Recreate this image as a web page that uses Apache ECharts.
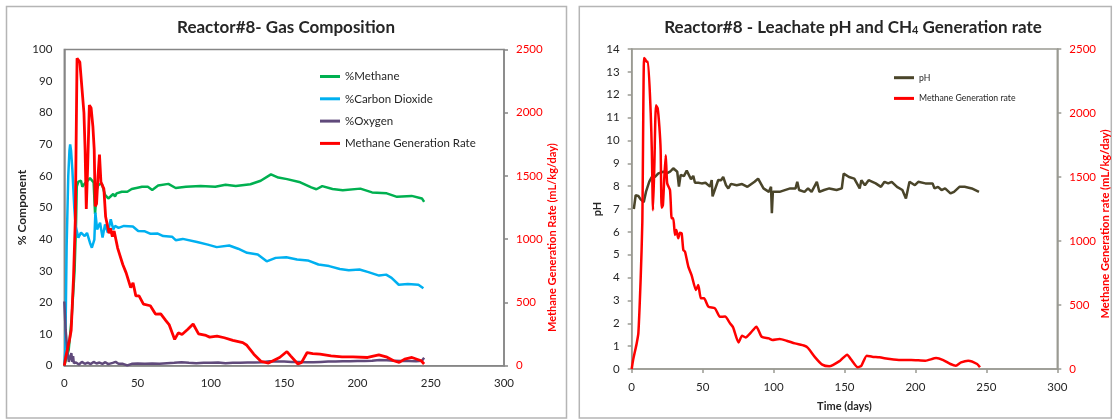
<!DOCTYPE html>
<html><head><meta charset="utf-8">
<script src="https://cdn.jsdelivr.net/npm/echarts@6/dist/echarts.min.js"></script>
<style>html,body{margin:0;padding:0;background:#fff}#c{width:1116px;height:420px}</style>
</head><body><div id="c"></div>
<script>
// ---- data (days / values) ----
const methaneDays = [0,3,5,7,8,8.5,9.6,11.4,12.3,13.7,15.3,17.5,18.7,20,21,22.1,23.2,25.5,26.6,27.8,30,31.5,33.4,34.6,35.7,37,39.2,43,46,50,53,57,60,64,71,76,83,93,103,110,117,127,134,141,146,152,161,168.5,172,176,183,190,202,210,220,227,237,244,245.5];
const methaneVals = [0,5,15,30,45,56.6,58.2,58.5,56.6,57.5,58.2,59.3,59.6,58,48,55.6,57.1,57.7,57.7,54,52.9,53.5,54.3,53.5,54.5,54.8,55,55,55.9,56.3,56.6,56.6,55.6,57,57.5,56.2,56.6,56.8,56.6,57.2,56.8,57.4,58.5,60.5,59.5,59,58,56.4,55.8,56.8,55.9,55.5,56,54.8,54.5,53.4,53.7,52.9,51.8];

const co2Days = [0,0.7,1.6,2.7,3.5,4,4.6,5.5,6.8,7.8,9.6,11.4,12.5,13.9,15.5,17.5,18.8,20.5,21.2,22.4,24.4,26.1,27.8,29.7,31.7,33.4,34.6,37,40.7,46.8,50.4,55,58.9,63.8,67.5,73.5,76,80.8,90.6,97.9,104,112.5,118.6,124.7,132,138.1,144.2,151.5,158.8,166.1,173.4,180.7,188,194.1,201.4,207.5,214.8,219.6,223.3,228.2,234.4,241.6,245];
const co2Vals = [0,5,38,60,68,70,68,62,50,44,40.5,42.1,41.5,41,42,38.9,37.3,39.9,48.4,43.1,45.2,40.5,44.7,42.1,46.3,43.1,44.2,43.6,44.2,44,42.6,42.5,41.7,41.8,41,40.8,39.7,40.1,39.1,38.3,37.5,38,37,35.7,35.2,33,34.1,34.3,33.6,33.3,32,31.5,30.6,30.2,30.4,29.6,28.5,28.8,27.8,25.6,25.8,25.6,24.5];

const o2Days = [0,0.9,2.3,3.1,4.3,4.8,5.5,6,6.5,8,10,12,14,16,18,20,22,24,26,28,30,33,35,37,40,43,46,50,55,60,65,70,75,80,85,90,95,100,105,110,115,120,125,130,135,140,145,150,155,160,165,170,175,180,185,190,195,200,205,210,215,220,225,230,235,240,244,245.5];
const o2Vals = [20.3,11.3,3.9,1.2,1,4,1.2,3,0.8,1,0.4,1.2,0.6,1,0.5,1.2,0.7,1,0.6,1.1,0.5,0.9,1.2,0.6,0.6,0.1,0.6,0.7,0.6,0.7,0.6,0.8,0.9,1.1,0.9,0.8,0.9,0.9,1,0.8,0.9,0.9,1,1,1.1,1.4,1.3,1.3,1.2,1.2,1.1,1.1,1.2,1.3,1.3,1.4,1.4,1.5,1.5,1.6,1.8,1.7,1.6,1.5,1.5,1.4,1.6,2.5];

const rateDays = [0,1,3.5,4.7,6.3,7.5,8.7,9.5,10.6,11.5,13.4,14.2,15,16,17.1,18.3,19.5,20.4,21.1,22,23,24,25,27,28.2,29.3,30.5,31.5,32.8,34,35.2,36.4,37.6,39.9,42.2,45.3,46.9,48.8,51,54,58.7,62.2,65.8,69.3,71.5,75.3,77.8,80.3,84.1,87.9,91.6,96.7,99.2,104.2,109.2,115,121.8,124.3,129.3,134.3,139.3,146.9,151.9,154.4,159.4,161.9,165.7,169.5,174.5,182,189.5,197,207,214.6,219.6,224.7,228.5,232.2,237.2,243.5,245.5];
const rateVals = [0,70,200,280,700,1150,2430,2420,2400,2400,2000,1700,1240,1600,2060,2037,1893,1711,1260,1280,1500,1670,1451,1398,1177,1177,1047,1086,1021,1065,1060,930,916,800,734,617,656,552,552,487,474,408,410,357,325,208,260,247,286,330,252,239,226,234,221,200,182,164,91,34,21,65,112,78,13,26,104,96,91,78,70,70,65,86,70,39,26,52,65,39,13];

const phDays = [1.5,2.8,4.7,6.3,8.5,10.1,12.4,14.1,16.4,18.8,22.3,24.7,27,29.3,30.5,32.1,33.3,34.5,36.8,38.8,40,41.8,43.4,44.6,47,49.3,52,55.2,56.4,57,61,63,64.5,66.5,68.1,70,74,77.8,81.6,86.6,89.1,92.9,96.7,98.2,98.8,99.5,104.2,111.7,115.5,116.7,118,121.8,124.3,126.8,130.5,132.3,135.6,139.3,144.4,148.1,149.4,153.2,156.9,160.7,161.9,164.4,167,172,175.7,178.2,180.8,183.3,187,190.8,193.3,195.8,199.6,202,207,212.1,213.4,215.9,218.4,220.9,224.7,227.2,231,234.7,239.7,244.8];
const phVals = [7.0,7.6,7.57,7.42,7.3,7.76,8.2,8.39,8.41,8.56,8.63,8.56,8.63,8.78,8.82,8.63,7.98,8.49,8.44,8.68,8.7,8.3,8.45,8.15,8.15,8.12,8.15,7.98,8.27,7.55,8.27,8.26,8.4,8.04,7.9,8.1,8.04,8.09,7.97,8.19,8.33,7.9,7.75,7.97,6.82,7.75,7.75,7.9,7.9,8.19,7.83,7.75,7.9,7.75,8.19,7.75,7.83,7.9,7.83,7.9,8.55,8.4,8.33,7.9,8.26,8.04,8.26,8.12,7.97,8.19,8.12,8.19,7.97,7.83,7.46,8.19,8.04,8.19,8.12,8.12,7.9,7.97,7.83,7.9,7.68,7.75,7.97,7.97,7.9,7.75];

const xTicks = {min:0, max:300, interval:50};
const pctTicks = {min:0, max:100, interval:10};
const rateTicks = {min:0, max:2500, interval:500};
const phTicks = {min:0, max:14, interval:1};

const zip = (a,b) => a.map((d,i)=>[d,b[i]]);
const FONT = 'Lato, "Liberation Sans", sans-serif';
const TXT = '#262626';
const AX1 = '#868686';
const AX2 = '#9a9a92';
const RED = '#ff0000';

const chart = echarts.init(document.getElementById('c'), null, {renderer:'canvas'});

function xAxisCfg(gi, col, ticks, extra){
  return Object.assign({gridIndex:gi, type:'value', min:xTicks.min, max:xTicks.max, interval:xTicks.interval,
    axisLine:{show:true, onZero:false, lineStyle:{color:col, width:1.5}},
    axisTick:{show:ticks, length:4, lineStyle:{color:col, width:1.5}},
    splitLine:{show:false},
    axisLabel:{color:TXT, fontSize:11.5, margin:12, fontFamily:FONT, formatter:v=>String(v)}}, extra||{});
}
function yAxisCfg(gi, pos, t, col, labelCol, ticks, extra){
  return Object.assign({gridIndex:gi, type:'value', position:pos, min:t.min, max:t.max, interval:t.interval,
    axisLine:{show:true, lineStyle:{color:col, width:1.5}},
    axisTick:{show:ticks, length:4, lineStyle:{color:col, width:1.5}},
    splitLine:{show:false},
    axisLabel:{color:labelCol, fontSize:11.5, margin:12, fontFamily:FONT, formatter:v=>String(v)},
    nameLocation:'middle', nameRotate:90}, extra||{});
}

const option = {
  animation:false,
  backgroundColor:'#fff',
  graphic:[
    {type:'rect', silent:true, z:-10, shape:{x:6.5, y:6.5, width:560, height:411.5}, style:{fill:'#fff', stroke:'#b5b5b5', lineWidth:1.5}},
    {type:'rect', silent:true, z:-10, shape:{x:579.3, y:6.5, width:532, height:411.5}, style:{fill:'#fff', stroke:'#b5b5b5', lineWidth:1.5}}
  ],
  title:[
    {text:'Reactor#8- Gas Composition', left:286, top:19, textAlign:'center', padding:0,
     textStyle:{fontSize:17, fontWeight:'bold', color:TXT, fontFamily:FONT}},
    {text:'Reactor#8 - Leachate pH and CH{s|4} Generation rate', left:853, top:19, textAlign:'center', padding:0,
     textStyle:{fontSize:17, fontWeight:'bold', color:TXT, fontFamily:FONT,
       rich:{s:{fontSize:11, fontWeight:'bold', color:TXT, fontFamily:FONT, verticalAlign:'bottom', padding:[6,0,0,0]}}}}
  ],
  legend:[
    {data:['%Methane','%Carbon Dioxide','%Oxygen','Methane Generation Rate'], orient:'vertical', left:315, top:64.5,
     icon:'rect', itemWidth:20, itemHeight:3, itemGap:8.3,
     textStyle:{fontSize:11.5, lineHeight:14, color:TXT, fontFamily:FONT}},
    {data:['pH','Methane Generation rate'], orient:'vertical', left:889, top:67.2,
     icon:'rect', itemWidth:20, itemHeight:3, itemGap:9.7,
     textStyle:{fontSize:8.7, lineHeight:11, color:TXT, fontFamily:FONT}}
  ],
  grid:[
    {left:64.3, top:49.5, width:439.7, height:316.2, show:true, borderColor:AX1, borderWidth:1.5, backgroundColor:'transparent'},
    {left:631.7, top:49, width:425.6, height:320, show:true, borderColor:AX2, borderWidth:1.5, backgroundColor:'transparent'}
  ],
  xAxis:[
    xAxisCfg(0, AX1, false),
    xAxisCfg(1, AX2, true, {name:'Time (days)', nameLocation:'middle', nameGap:32,
      nameTextStyle:{fontSize:11, fontWeight:'bold', color:TXT, fontFamily:FONT}})
  ],
  yAxis:[
    yAxisCfg(0, 'left', pctTicks, AX1, TXT, false, {name:'% Component', nameGap:35,
      nameTextStyle:{fontSize:12, fontWeight:'bold', color:TXT, fontFamily:FONT}}),
    yAxisCfg(0, 'right', rateTicks, AX1, RED, true, {name:'Methane Generation Rate (mL/kg/day)', nameGap:40,
      nameTextStyle:{fontSize:11, fontWeight:'bold', color:RED, fontFamily:FONT, padding:[0,60,0,0]}}),
    yAxisCfg(1, 'left', phTicks, AX2, TXT, true, {name:'pH', nameGap:26,
      nameTextStyle:{fontSize:11, fontWeight:'bold', color:TXT, fontFamily:FONT}}),
    yAxisCfg(1, 'right', rateTicks, AX2, RED, true, {name:'Methane Generation rate (mL/kg/day)', nameGap:38,
      nameTextStyle:{fontSize:11.2, fontWeight:'bold', color:RED, fontFamily:FONT, padding:[0,30,0,0]}})
  ],
  series:[
    {name:'%Methane', type:'line', xAxisIndex:0, yAxisIndex:0, data:zip(methaneDays, methaneVals), symbol:'none', color:'#00b050', lineStyle:{width:2.5}},
    {name:'%Carbon Dioxide', type:'line', xAxisIndex:0, yAxisIndex:0, data:zip(co2Days, co2Vals), symbol:'none', color:'#00b0f0', lineStyle:{width:2.5}},
    {name:'%Oxygen', type:'line', xAxisIndex:0, yAxisIndex:0, data:zip(o2Days, o2Vals), symbol:'none', color:'#604a7b', lineStyle:{width:2.5}},
    {name:'Methane Generation Rate', type:'line', xAxisIndex:0, yAxisIndex:1, data:zip(rateDays, rateVals), symbol:'none', color:RED, lineStyle:{width:2.8}},
    {name:'pH', type:'line', xAxisIndex:1, yAxisIndex:2, data:zip(phDays, phVals), symbol:'none', color:'#4a452a', lineStyle:{width:2.5}},
    {name:'Methane Generation rate', type:'line', xAxisIndex:1, yAxisIndex:3, data:zip(rateDays, rateVals), symbol:'none', smooth:0.2, color:RED, lineStyle:{width:2.5}}
  ]
};
chart.setOption(option);
</script>
</body></html>
